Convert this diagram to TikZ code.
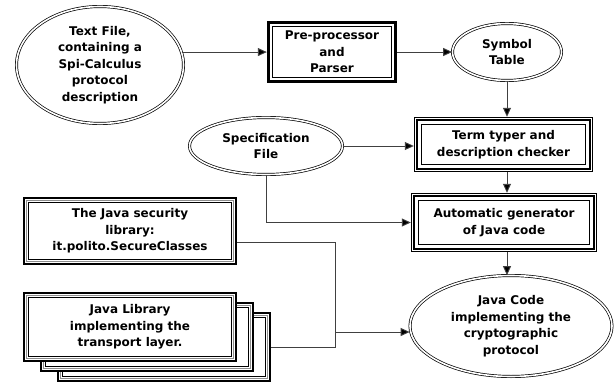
\documentclass[tikz,border=0pt]{standalone}
\usepackage{fontspec}
\setmainfont{DejaVu Sans}
\usetikzlibrary{arrows.meta,shapes.geometric}
\newcommand\preborder[1]{%
  \draw[line width=3pt] ([shift={(1.5,1.5)}]#1.north west) rectangle ([shift={(-1.5,-1.5)}]#1.south east);
  \draw[line width=0.9pt] ([shift={(6,6)}]#1.north west) rectangle ([shift={(-6,-6)}]#1.south east);
}
\newcommand\triborder[1]{%
  \draw[line width=0.8pt] ([shift={(0.4,0.4)}]#1.north west) rectangle ([shift={(-0.4,-0.4)}]#1.south east);
  \draw[line width=2.4pt] ([shift={(3.4,3.4)}]#1.north west) rectangle ([shift={(-3.4,-3.4)}]#1.south east);
  \draw[line width=0.9pt] ([shift={(7.5,7.5)}]#1.north west) rectangle ([shift={(-7.5,-7.5)}]#1.south east);
}
\newcommand\javaborder[1]{%
  \draw[line width=2.6pt] ([shift={(1.3,1.3)}]#1.north west) rectangle ([shift={(-1.3,-1.3)}]#1.south east);
  \draw[line width=0.6pt, black!45] ([shift={(3.6,3.6)}]#1.north west) rectangle ([shift={(-3.6,-3.6)}]#1.south east);
  \draw[line width=1.1pt] ([shift={(6,6)}]#1.north west) rectangle ([shift={(-6,-6)}]#1.south east);
}
\begin{document}
\begin{tikzpicture}[x=1pt,y=-1pt,
  lbl/.style={font=\bfseries\fontsize{12}{16.5}\selectfont, align=center, inner sep=0pt},
  ell/.style={lbl, ellipse, draw, line width=0.7pt, double, double distance=1.6pt, fill=white},
  bx/.style={lbl, rectangle, fill=white},
  conn/.style={line width=0.9pt, draw=black!75},
  arr/.style={conn, -{Triangle[length=9pt,width=8pt,fill=black]}}
]
\useasboundingbox (0,0) rectangle (614,391);
\fill[white] (0,0) rectangle (614,391);

% ellipses
\node[ell, minimum width=167pt, minimum height=117pt] (txt) at (100,65)
  {Text File,\\containing a\\Spi-Calculus\\protocol\\description};
\node[ell, minimum width=109pt, minimum height=57pt] (sym) at (507,52) {Symbol\\Table};
\node[ell, minimum width=153pt, minimum height=57pt] (spec) at (266,146) {Specification\\File};
\node[ell, minimum width=202pt, minimum height=101pt] (code) at (511,326)
  {Java Code\\implementing the\\cryptographic\\protocol};

% boxes
\node[bx, minimum width=130pt, minimum height=62pt] (pre) at (332,52) {Pre-processor\\and\\Parser};
\preborder{pre}
\node[bx, minimum width=179pt, minimum height=55pt] (term) at (503.5,144.5) {Term typer and\\description checker};
\triborder{term}
\node[bx, minimum width=186pt, minimum height=59pt] (auto) at (504,222.5) {Automatic generator\\of Java code};
\triborder{auto}
\node[bx, minimum width=214pt, minimum height=68pt] (sec) at (130,231) {The Java security\\library:\\it.polito.SecureClasses};
\javaborder{sec}

\node[bx, minimum width=214pt, minimum height=70pt] (jl3) at (164,347) {};
\javaborder{jl3}
\node[bx, minimum width=214pt, minimum height=70pt] (jl2) at (147,337) {};
\javaborder{jl2}
\node[bx, minimum width=214pt, minimum height=70pt] (jl) at (130,327) {Java Library\\implementing the\\transport layer.};
\javaborder{jl}

% connectors
\draw[arr] (txt.9) -- (txt.9 -| pre.west);
\draw[arr] (pre.east) -- (sym.west);
\draw[arr] (sym.south) -- (sym.south |- term.north);
\draw[arr] (spec.east) -- (spec.east -| term.west);
\draw[arr] (spec.south) |- (auto.west);
\draw[arr] (term.south -| sym.south) -- (auto.north -| sym.south);
\draw[arr] (auto.south -| sym.south) -- (code.north -| sym.south);

\coordinate (j1) at (335,242);
\coordinate (j2) at (335,332);
\coordinate (j3) at (335,347);
\draw[conn] (sec.east |- j1) -- (j1) -- (j3) -- (j3 -| jl3.east);
\draw[arr] (j2) -- (j2 -| code.west);
\end{tikzpicture}
\end{document}
